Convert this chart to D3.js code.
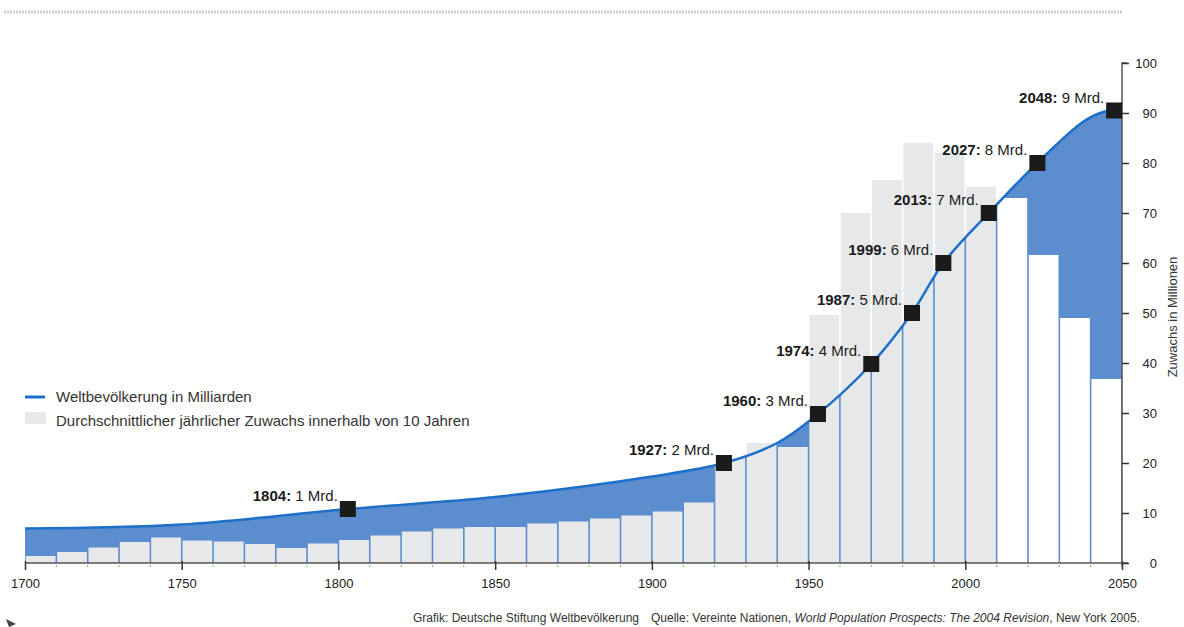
<!DOCTYPE html>
<html>
<head>
<meta charset="utf-8">
<script src="https://cdn.jsdelivr.net/npm/d3@7"></script>
<style>
body { margin: 0; background: #fff; }
text { font-family: "Liberation Sans", Arial, sans-serif; }
</style>
</head>
<body>
<div id="chart"></div>
<script>
// decades (start year) and average yearly growth in millions
var decadeStarts = d3.range(1700, 2050, 10);
var growthValues = [1.4, 2.2, 3.1, 4.2, 5.1, 4.5, 4.3, 3.8, 3.0, 3.9,
                    4.6, 5.5, 6.3, 6.9, 7.2, 7.2, 7.9, 8.3, 8.9, 9.5,
                    10.3, 12.1, 21, 24, 23.2, 49.6, 70, 76.6, 84, 82,
                    75.2, 73, 61.6, 49, 36.8];
var projectionFrom = 2010;

// world population in billions, as drawn
var popYears  = [1700, 1750, 1803, 1850, 1900, 1923, 1940, 1953, 1970, 1983, 1993, 2007.5, 2023, 2037.5, 2044, 2047.5, 2050];
var popValues = [0.69, 0.77, 1.08, 1.32, 1.73, 2.0, 2.4, 2.98, 3.98, 5.0, 6.0, 7.0, 8.0, 8.82, 9.02, 9.05, 9.07];

// milestones: label year, billions, and where the marker sits in the picture
var mileLabelYears = [1804, 1927, 1960, 1974, 1987, 1999, 2013, 2027, 2048];
var mileBillions   = [1, 2, 3, 4, 5, 6, 7, 8, 9];
var milePlotYears  = [1803, 1923, 1953, 1970, 1983, 1993, 2007.5, 2023, 2047.5];
var milePlotValues = [1.08, 2.0, 2.98, 3.98, 5.0, 6.0, 7.0, 8.0, 9.05];

var xTicks = [1700, 1750, 1800, 1850, 1900, 1950, 2000, 2050];
var yTicks = d3.range(0, 101, 10);

var legendLabels = ["Weltbevölkerung in Milliarden",
                    "Durchschnittlicher jährlicher Zuwachs innerhalb von 10 Jahren"];

var width = 1184, height = 627;
var blue = "#5b8dcf", lineBlue = "#1d6fca", grey = "#e7e8ea";

var svg = d3.select("#chart").append("svg")
    .attr("width", width)
    .attr("height", height);

var x = d3.scaleLinear().domain([1700, 2050]).range([25, 1122]);
var y = d3.scaleLinear().domain([0, 100]).range([563, 63]);

// top dotted rule
svg.append("line")
    .attr("x1", 4).attr("x2", 1123)
    .attr("y1", 12).attr("y2", 12)
    .attr("stroke", "#cfcfd2")
    .attr("stroke-width", 3)
    .attr("stroke-dasharray", "2,1");

var pop = popYears.map(function(d, i) { return {year: d, v: popValues[i]}; });

// blue area under the population curve
var area = d3.area()
    .x(function(d) { return x(d.year); })
    .y0(y(0))
    .y1(function(d) { return y(d.v * 10); })
    .curve(d3.curveCatmullRom.alpha(0.5));

svg.append("path")
    .datum(pop)
    .attr("d", area)
    .attr("fill", blue);

// bars
var bars = decadeStarts.map(function(d, i) { return {start: d, v: growthValues[i]}; });
svg.selectAll("rect.bar")
    .data(bars)
    .enter().append("rect")
    .attr("class", "bar")
    .attr("x", function(d) { return x(d.start) + 0.8; })
    .attr("width", function(d) { return x(d.start + 10) - x(d.start) - 1.6; })
    .attr("y", function(d) { return y(d.v); })
    .attr("height", function(d) { return y(0) - y(d.v); })
    .attr("fill", function(d) { return d.start >= projectionFrom ? "#ffffff" : grey; });

// population line
var line = d3.line()
    .x(function(d) { return x(d.year); })
    .y(function(d) { return y(d.v * 10); })
    .curve(d3.curveCatmullRom.alpha(0.5));

svg.append("path")
    .datum(pop)
    .attr("d", line)
    .attr("fill", "none")
    .attr("stroke", lineBlue)
    .attr("stroke-width", 2.5);

// bottom axis
var xAxis = svg.append("g")
    .attr("transform", "translate(0," + y(0) + ")")
    .call(d3.axisBottom(x).tickValues(xTicks).tickFormat(d3.format("d")).tickSize(7).tickSizeOuter(0));
xAxis.select(".domain").attr("stroke", "#555").attr("stroke-width", 1.5)
    .attr("d", "M" + x(1700) + ",0H" + (x(2050) + 6));
xAxis.selectAll(".tick line").attr("stroke", "#333").attr("stroke-width", 1.5).attr("y1", -2);
xAxis.selectAll(".tick text")
    .attr("y", 16)
    .attr("fill", "#222")
    .style("font-size", "13px")
    .style("font-family", "'Liberation Sans Narrow', 'Liberation Sans', Arial, sans-serif");

// minor decade ticks
svg.selectAll("line.minor")
    .data(d3.range(1710, 2050, 10).filter(function(d) { return d % 50 !== 0; }))
    .enter().append("line")
    .attr("class", "minor")
    .attr("x1", function(d) { return x(d); })
    .attr("x2", function(d) { return x(d); })
    .attr("y1", y(0) + 2).attr("y2", y(0) + 4)
    .attr("stroke", "#999");

// right axis
var yAxis = svg.append("g")
    .attr("transform", "translate(" + x(2050) + ",0)")
    .call(d3.axisRight(y).tickValues(yTicks).tickSize(7).tickSizeOuter(0));
yAxis.select(".domain").attr("stroke", "#555").attr("stroke-width", 1.5)
    .attr("d", "M5," + y(100) + "H0V" + (y(0) + 4));
yAxis.selectAll(".tick line").attr("stroke", "#333").attr("stroke-width", 1.5);
yAxis.selectAll(".tick text")
    .attr("x", 35)
    .attr("text-anchor", "end")
    .attr("fill", "#222")
    .style("font-size", "13px")
    .style("font-family", "'Liberation Sans Narrow', 'Liberation Sans', Arial, sans-serif");

svg.append("text")
    .attr("transform", "translate(1177," + (y(50) + 4) + ") rotate(-90)")
    .attr("text-anchor", "middle")
    .attr("fill", "#333")
    .style("font-size", "13px")
    .text("Zuwachs in Millionen");

// milestone markers and labels
var miles = mileLabelYears.map(function(d, i) {
    return {label: d, bn: mileBillions[i], year: milePlotYears[i], v: milePlotValues[i]};
});

var lab = svg.selectAll("text.mile")
    .data(miles)
    .enter().append("text")
    .attr("class", "mile")
    .attr("x", function(d) { return x(d.year) - 10; })
    .attr("y", function(d) { return y(d.v * 10) - 8; })
    .attr("text-anchor", "end")
    .attr("fill", "#1a1a1a")
    .style("font-size", "15px");
lab.append("tspan").style("font-weight", "bold").text(function(d) { return d.label + ":"; });
lab.append("tspan").text(function(d) { return " " + d.bn + " Mrd."; });

svg.selectAll("rect.mark")
    .data(miles)
    .enter().append("rect")
    .attr("class", "mark")
    .attr("x", function(d) { return x(d.year) - 8; })
    .attr("y", function(d) { return y(d.v * 10) - 8; })
    .attr("width", 16).attr("height", 16)
    .attr("fill", "#1b1b1b");

// legend
var leg = svg.append("g").attr("transform", "translate(25,397)");
leg.append("line").attr("x1", 0).attr("x2", 20).attr("y1", 0).attr("y2", 0)
    .attr("stroke", lineBlue).attr("stroke-width", 3);
leg.append("rect").attr("x", 0).attr("y", 15).attr("width", 21).attr("height", 12).attr("fill", grey);
leg.selectAll("text")
    .data(legendLabels)
    .enter().append("text")
    .attr("x", 31)
    .attr("y", function(d, i) { return 5 + i * 24; })
    .attr("fill", "#333")
    .style("font-size", "15px")
    .text(function(d) { return d; });

// source line
svg.append("text")
    .attr("x", 413).attr("y", 622)
    .attr("fill", "#333")
    .attr("textLength", 226).attr("lengthAdjust", "spacingAndGlyphs")
    .style("font-size", "12px")
    .text("Grafik: Deutsche Stiftung Weltbevölkerung");
var src = svg.append("text")
    .attr("x", 651).attr("y", 622)
    .attr("fill", "#333")
    .attr("textLength", 489).attr("lengthAdjust", "spacingAndGlyphs")
    .style("font-size", "12px");
src.append("tspan").text("Quelle: Vereinte Nationen, ");
src.append("tspan").style("font-style", "italic").text("World Population Prospects: The 2004 Revision");
src.append("tspan").text(", New York 2005.");

// small pointer at bottom left
svg.append("path")
    .attr("d", d3.line()([[6, 619], [16, 624], [9, 627]]))
    .attr("fill", "#444");
</script>
</body>
</html>
